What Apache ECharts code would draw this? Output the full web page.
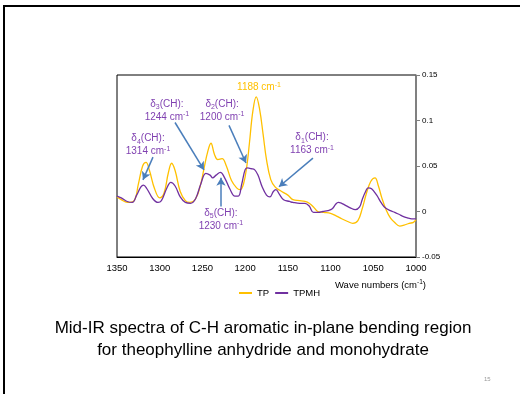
<!DOCTYPE html>
<html><head><meta charset="utf-8">
<script src="https://cdn.jsdelivr.net/npm/echarts@6/dist/echarts.min.js"></script>
<style>html,body{margin:0;padding:0;background:#fff}#c{width:520px;height:394px}</style>
</head><body><div id="c"></div>
<script>
// ---- data (wavenumber cm-1, absorbance) ----
var tpWave = [1350,1345,1338,1330,1325,1320,1316,1312,1306,1300,1295,1290,1286,1282,1276,1270,1265,1258,1252,1248,1244,1240,1236,1232,1227,1222,1216,1210,1206,1202,1198,1195,1191,1187,1183,1179,1175,1170,1165,1159,1150,1144,1136,1130,1125,1120,1115,1108,1100,1093,1087,1080,1074,1068,1063,1058,1053,1048,1044,1040,1035,1030,1025,1019,1014,1008,1003,1000];
var tpAbs = [0.016,0.013,0.010,0.012,0.030,0.050,0.054,0.045,0.025,0.015,0.020,0.042,0.053,0.045,0.022,0.012,0.010,0.014,0.030,0.048,0.065,0.075,0.063,0.057,0.058,0.050,0.034,0.026,0.024,0.030,0.050,0.075,0.110,0.126,0.112,0.085,0.057,0.035,0.027,0.023,0.018,0.013,0.012,0.011,0.009,0.005,0.000,-0.001,-0.002,-0.005,-0.008,-0.011,-0.013,-0.010,0.003,0.020,0.033,0.037,0.028,0.015,0.002,-0.007,-0.012,-0.016,-0.015,-0.013,-0.012,-0.009];
var tpmhWave = [1350,1345,1338,1332,1327,1322,1319,1315,1308,1302,1298,1292,1287,1282,1276,1270,1264,1258,1252,1246,1241,1238,1234,1229,1224,1218,1212,1208,1204,1200,1197,1193,1189,1185,1180,1175,1171,1167,1164,1160,1155,1148,1144,1136,1130,1125,1120,1114,1109,1103,1098,1094,1091,1087,1083,1077,1071,1066,1063,1059,1056,1052,1046,1041,1036,1030,1025,1020,1016,1010,1005,1000];
var tpmhAbs = [0.017,0.015,0.011,0.010,0.018,0.027,0.029,0.025,0.014,0.010,0.012,0.025,0.032,0.028,0.016,0.010,0.009,0.014,0.030,0.042,0.040,0.037,0.040,0.043,0.037,0.025,0.017,0.017,0.030,0.046,0.048,0.047,0.046,0.040,0.027,0.018,0.016,0.022,0.024,0.019,0.013,0.011,0.010,0.009,0.009,0.006,-0.001,-0.001,0.000,0.001,0.003,0.008,0.010,0.009,0.007,0.004,0.002,0.005,0.013,0.022,0.026,0.025,0.018,0.010,0.004,0.001,-0.001,-0.003,-0.005,-0.007,-0.008,-0.008];
var seriesNames = ['TP', 'TPMH'];
var xTicks = [1350,1300,1250,1200,1150,1100,1050,1000];
var yTicks = [-0.05,0,0.05,0.1,0.15];
// annotations
var annoModes = ['4','3','2','5','1'];
var annoWaves = ['1314','1244','1200','1230','1163'];
var annoPos = [[1313.7,0.073],[1291.5,0.111],[1227,0.111],[1228.3,-0.0087],[1121.7,0.074]];
var arrowFrom = [[1307.9,0.0598],[1282.1,0.0978],[1218.9,0.0946],[1228.3,0.0054],[1120.6,0.0587]];
var arrowTo = [[1319.6,0.0348],[1248.2,0.0457],[1199.0,0.0533],[1228.3,0.037],[1160.4,0.0272]];
var peakLabel = '1188';
var peakPos = [1183.8,0.136];

function pairs(xs, ys){ return xs.map(function(x,i){ return [x, ys[i]]; }); }

var purpleText = '#7F3FB0';
var rich = {
  d: {fontSize: 10, color: purpleText, lineHeight: 13, fontFamily: 'Liberation Sans'},
  s: {fontSize: 7, color: purpleText, lineHeight: 13, verticalAlign: 'bottom', fontFamily: 'Liberation Sans'},
  p: {fontSize: 7, color: purpleText, lineHeight: 13, verticalAlign: 'top', fontFamily: 'Liberation Sans'},
  yd: {fontSize: 10, color: '#FFC000', lineHeight: 13, fontFamily: 'Liberation Sans'},
  yp: {fontSize: 7, color: '#FFC000', lineHeight: 13, verticalAlign: 'top', fontFamily: 'Liberation Sans'}
};

var mpData = annoModes.map(function(m, i){
  return {coord: annoPos[i], label: {formatter: '{d|δ}{s|' + m + '}{d|(CH):}\n{d|' + annoWaves[i] + ' cm}{p|-1}'}};
});
mpData.push({coord: peakPos, label: {formatter: '{yd|' + peakLabel + ' cm}{yp|-1}'}});

var mlData = arrowFrom.map(function(f, i){ return [{coord: f}, {coord: arrowTo[i]}]; });

var chart = echarts.init(document.getElementById('c'), null, {renderer: 'canvas'});
chart.setOption({
  animation: false,
  backgroundColor: '#fff',
  grid: {left: 117, right: 104, top: 75, bottom: 137, show: true, borderColor: '#000', borderWidth: 1},
  legend: {
    data: seriesNames, left: 234, top: 283, icon: 'rect', itemWidth: 13, itemHeight: 2, itemGap: 6,
    textStyle: {fontSize: 9.5, color: '#000', fontFamily: 'Liberation Sans'}
  },
  xAxis: {
    type: 'value', min: 1000, max: 1350, interval: 50, inverse: true,
    axisLine: {show: true, onZero: false, lineStyle: {color: '#000', width: 1}},
    axisTick: {show: false}, splitLine: {show: false},
    axisLabel: {fontSize: 9.5, color: '#000', margin: 6, fontFamily: 'Liberation Sans',
      formatter: function(v){ return xTicks.indexOf(v) >= 0 ? String(v) : ''; }}
  },
  yAxis: {
    type: 'value', position: 'right', min: -0.05, max: 0.15, interval: 0.05,
    axisLine: {show: true, onZero: false, lineStyle: {color: '#808080', width: 1.5}},
    axisTick: {show: true, inside: false, length: 4, lineStyle: {color: '#808080'}},
    splitLine: {show: false},
    axisLabel: {fontSize: 8, color: '#000', margin: 6, fontFamily: 'Liberation Sans',
      formatter: function(v){ var r = parseFloat(v.toFixed(2)); return yTicks.indexOf(r) >= 0 ? String(r) : ''; }}
  },
  graphic: [
    {type: 'rect', shape: {x: 4, y: 6, width: 700, height: 700}, style: {fill: 'none', stroke: '#000', lineWidth: 2}, z: 100},
    {type: 'text', left: 335, top: 279, style: {text: '{a|Wave numbers (cm}{b|-1}{a|)}', rich: {
      a: {fontSize: 9.5, fill: '#000', lineHeight: 12, fontFamily: 'Liberation Sans'},
      b: {fontSize: 6.5, fill: '#000', lineHeight: 12, verticalAlign: 'top', fontFamily: 'Liberation Sans'}}}},
    {type: 'text', x: 263, y: 317, style: {text: 'Mid-IR spectra of C-H aromatic in-plane bending region\nfor theophylline anhydride and monohydrate',
      textAlign: 'center', fontSize: 17, lineHeight: 22, fill: '#000', fontFamily: 'Liberation Sans'}},
    {type: 'text', x: 484, y: 376, style: {text: '15', fontSize: 6, fill: '#999', fontFamily: 'Liberation Sans'}}
  ],
  series: [
    {name: seriesNames[0], type: 'line', data: pairs(tpWave, tpAbs), smooth: 0.4, showSymbol: false,
      lineStyle: {color: '#FFC000', width: 1.3}, itemStyle: {color: '#FFC000'}},
    {name: seriesNames[1], type: 'line', data: pairs(tpmhWave, tpmhAbs), smooth: 0.4, showSymbol: false,
      lineStyle: {color: '#7030A0', width: 1.3}, itemStyle: {color: '#7030A0'},
      markLine: {silent: true, symbol: ['none', 'arrow'], symbolSize: [7, 8], label: {show: false},
        lineStyle: {color: '#4A7EBB', width: 1.5, type: 'solid'}, emphasis: {disabled: true}, data: mlData},
      markPoint: {silent: true, symbol: 'circle', symbolSize: 1, itemStyle: {color: 'rgba(0,0,0,0)'},
        label: {show: true, position: 'inside', align: 'center', rich: rich}, data: mpData}
    }
  ]
});
</script></body></html>
